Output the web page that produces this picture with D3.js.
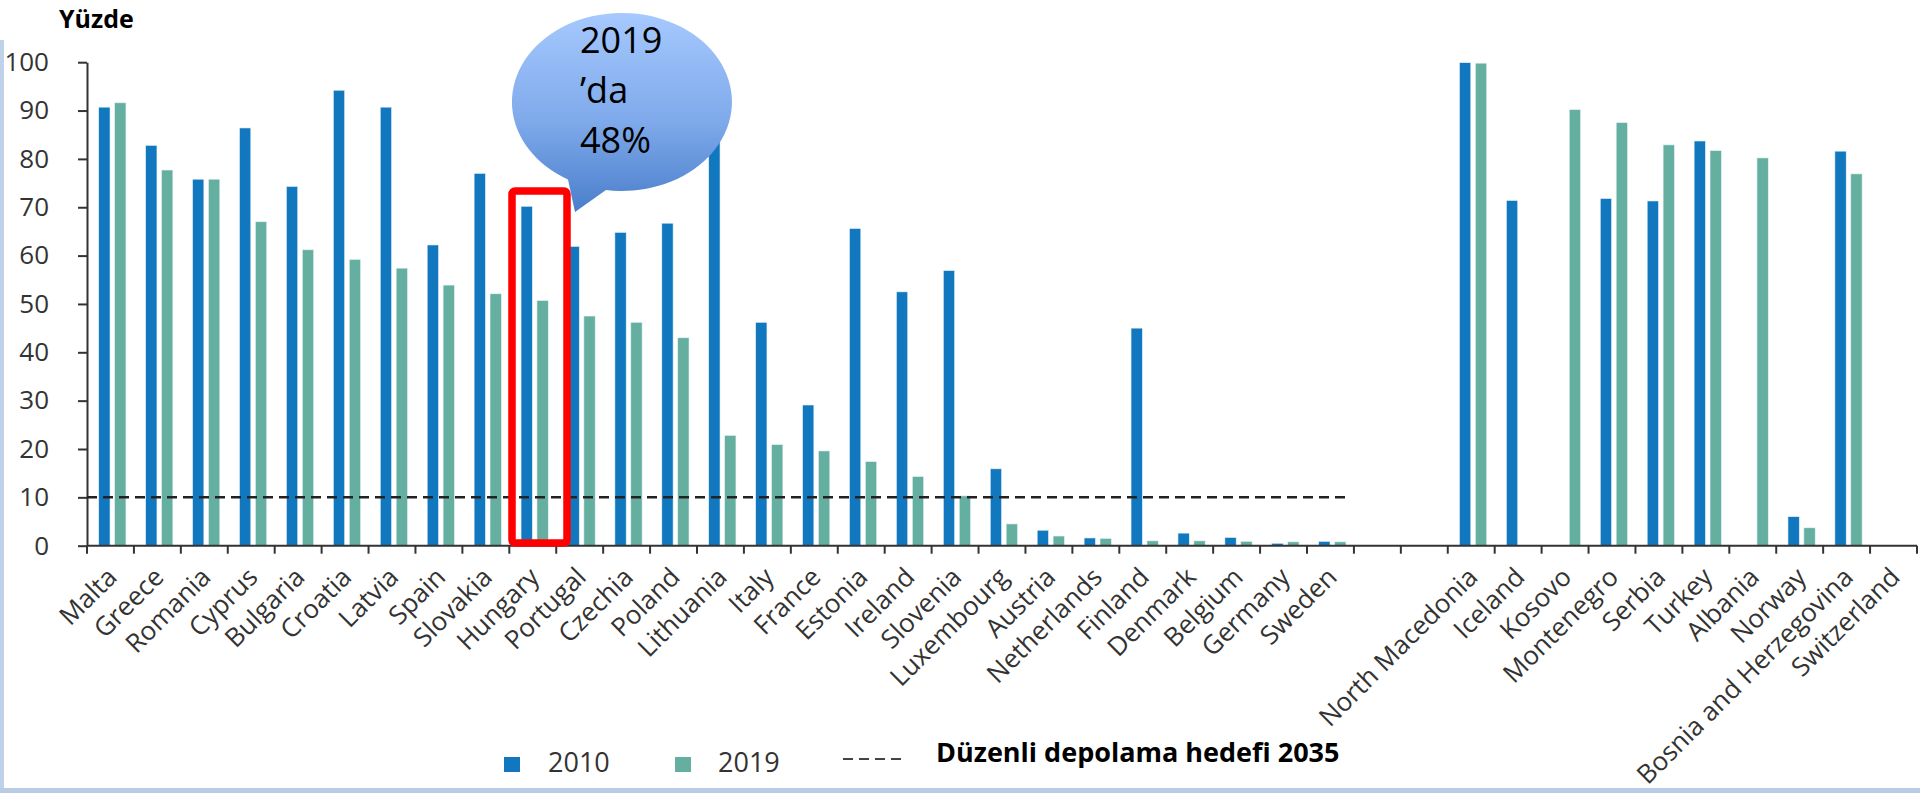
<!DOCTYPE html>
<html>
<head>
<meta charset="utf-8">
<script src="https://d3js.org/d3.v7.min.js"></script>
<style>
  body { margin: 0; background: #fff; }
  svg { display: block; font-family: "Open Sans", sans-serif; }
</style>
</head>
<body>
<div id="chart"></div>
<script>
// EU countries, then two empty slots, then the other countries
var euCountries = ["Malta", "Greece", "Romania", "Cyprus", "Bulgaria", "Croatia", "Latvia", "Spain",
  "Slovakia", "Hungary", "Portugal", "Czechia", "Poland", "Lithuania", "Italy", "France", "Estonia",
  "Ireland", "Slovenia", "Luxembourg", "Austria", "Netherlands", "Finland", "Denmark", "Belgium",
  "Germany", "Sweden"];
var gapSlots = ["gap1", "gap2"];
var otherCountries = ["North Macedonia", "Iceland", "Kosovo", "Montenegro", "Serbia", "Turkey",
  "Albania", "Norway", "Bosnia and Herzegovina", "Switzerland"];

// landfill rate (%), same order as above (null = no data)
var eu2010 = [90.7, 82.8, 75.8, 86.4, 74.3, 94.2, 90.7, 62.2, 77.0, 70.2, 61.9, 64.8, 66.7, 88,
  46.2, 29.1, 65.6, 52.5, 56.9, 15.9, 3.2, 1.6, 45.0, 2.6, 1.7, 0.5, 0.9];
var eu2019 = [91.6, 77.7, 75.8, 67.0, 61.2, 59.2, 57.4, 53.9, 52.1, 50.7, 47.5, 46.2, 43.0, 22.8,
  20.9, 19.6, 17.4, 14.3, 10.3, 4.5, 2.0, 1.5, 1.0, 1.0, 0.9, 0.8, 0.8];
var other2010 = [99.9, 71.4, null, 71.8, 71.3, 83.7, null, 6.0, 81.6, null];
var other2019 = [99.8, null, 90.2, 87.5, 82.9, 81.7, 80.2, 3.7, 76.9, null];

var yTicks = [0, 10, 20, 30, 40, 50, 60, 70, 80, 90, 100];
var target = 10;
var seriesNames = ["2010", "2019"];
var colors = {"2010": "#1178c0", "2019": "#65afa0"};

var slots = euCountries.concat(gapSlots, otherCountries);
var v2010 = eu2010.concat([null, null], other2010);
var v2019 = eu2019.concat([null, null], other2019);
var data = slots.map(function(c, i) {
  return {name: c, values: [{key: "2010", value: v2010[i]}, {key: "2019", value: v2019[i]}]};
});

var width = 1920, height = 793;
var svg = d3.select("#chart").append("svg")
  .attr("width", width).attr("height", height);

// frame lines (left + bottom)
svg.append("rect").attr("x", 0).attr("y", 40).attr("width", 4).attr("height", 753).attr("fill", "#c0d2ea");
svg.append("rect").attr("x", 0).attr("y", 788).attr("width", width).attr("height", 5).attr("fill", "#b8cce6");

var x = d3.scaleBand().domain(slots).range([87, 1917]);
var step = x.step();
var xInner = d3.scaleBand().domain(seriesNames)
  .range([0.25 * step, 0.83 * step]).paddingInner(0.29);
var y = d3.scaleLinear().domain([0, 100]).range([545.7, 62.2]);

// y axis
var yAxis = svg.append("g")
  .attr("transform", "translate(87,0)")
  .call(d3.axisLeft(y).tickValues(yTicks).tickSize(9).tickSizeOuter(0).tickPadding(29));
yAxis.selectAll("text").style("font-size", "26px").attr("fill", "#333")
  .style("font-family", "Open Sans");
yAxis.selectAll("line").attr("stroke", "#333").attr("stroke-width", 2);
yAxis.select(".domain").attr("stroke", "#333").attr("stroke-width", 2);

svg.append("text")
  .attr("x", 59).attr("y", 28)
  .style("font-size", "25px").style("font-weight", "bold")
  .text("Yüzde");

// bars
var groups = svg.selectAll(".grp").data(data).enter().append("g")
  .attr("transform", function(d) { return "translate(" + x(d.name) + ",0)"; });
groups.selectAll("rect")
  .data(function(d) { return d.values.filter(function(v) { return v.value != null; }); })
  .enter().append("rect")
  .attr("x", function(d) { return xInner(d.key); })
  .attr("width", xInner.bandwidth())
  .attr("y", function(d) { return y(d.value); })
  .attr("height", function(d) { return y(0) - y(d.value); })
  .attr("fill", function(d) { return colors[d.key]; })
  .attr("stroke", "#e6f1f7").attr("stroke-width", 0.6);

// x axis line and boundary ticks
svg.append("line")
  .attr("x1", 87).attr("x2", 1917).attr("y1", y(0)).attr("y2", y(0))
  .attr("stroke", "#333").attr("stroke-width", 2);
var bounds = slots.map(function(c) { return x(c); }).concat([x.range()[1]]);
svg.selectAll(".xtick").data(bounds).enter().append("line")
  .attr("x1", function(d) { return d; }).attr("x2", function(d) { return d; })
  .attr("y1", y(0)).attr("y2", y(0) + 8)
  .attr("stroke", "#333").attr("stroke-width", 2);

// category labels
svg.selectAll(".xlab").data(slots.filter(function(c) { return gapSlots.indexOf(c) < 0; }))
  .enter().append("text")
  .attr("transform", function(c) {
    return "translate(" + (x(c) + step / 2 + 8) + "," + (y(0) + 33) + ") rotate(-45)";
  })
  .attr("text-anchor", "end")
  .style("font-size", "26px").attr("fill", "#333")
  .text(function(c) { return c; });

// 2035 landfill target line
svg.append("line")
  .attr("x1", 87).attr("x2", x("Sweden") + 0.83 * step)
  .attr("y1", y(target)).attr("y2", y(target))
  .attr("stroke", "#222").attr("stroke-width", 2.5)
  .attr("stroke-dasharray", "10,6");

// highlight box on Hungary
svg.append("rect")
  .attr("x", 512).attr("y", 191).attr("width", 55).attr("height", 352)
  .attr("rx", 3)
  .attr("fill", "none").attr("stroke", "#ff0000").attr("stroke-width", 7.5);

// speech bubble
var defs = svg.append("defs");
var grad = defs.append("linearGradient").attr("id", "bub")
  .attr("x1", 0).attr("y1", 0).attr("x2", 0).attr("y2", 1);
grad.append("stop").attr("offset", "0%").attr("stop-color", "#a6c9fe");
grad.append("stop").attr("offset", "55%").attr("stop-color", "#7ea9ea");
grad.append("stop").attr("offset", "100%").attr("stop-color", "#4a7ecb");
svg.append("path")
  .attr("d", "M568,179.5 A110,89 0 1,1 606,190 L575,212 Z")
  .attr("fill", "url(#bub)");
var bubbleLines = ["2019", "\u2019da", "48%"];
svg.selectAll(".bub").data(bubbleLines).enter().append("text")
  .attr("x", 580).attr("y", function(d, i) { return 53 + i * 50; })
  .style("font-size", "36px").attr("fill", "#000")
  .text(function(d) { return d; });

// legend
var leg = svg.append("g");
leg.append("rect").attr("x", 504).attr("y", 757).attr("width", 16).attr("height", 15).attr("fill", colors["2010"]);
leg.append("text").attr("x", 548).attr("y", 772).style("font-size", "27px").attr("fill", "#333").text("2010");
leg.append("rect").attr("x", 675).attr("y", 757).attr("width", 16).attr("height", 15).attr("fill", colors["2019"]);
leg.append("text").attr("x", 718).attr("y", 772).style("font-size", "27px").attr("fill", "#333").text("2019");
leg.append("line").attr("x1", 843).attr("x2", 902).attr("y1", 759).attr("y2", 759)
  .attr("stroke", "#444").attr("stroke-width", 2).attr("stroke-dasharray", "10,6");
leg.append("text").attr("x", 936).attr("y", 762)
  .style("font-size", "27px").style("font-weight", "bold").attr("fill", "#000")
  .text("Düzenli depolama hedefi 2035");
</script>
</body>
</html>
